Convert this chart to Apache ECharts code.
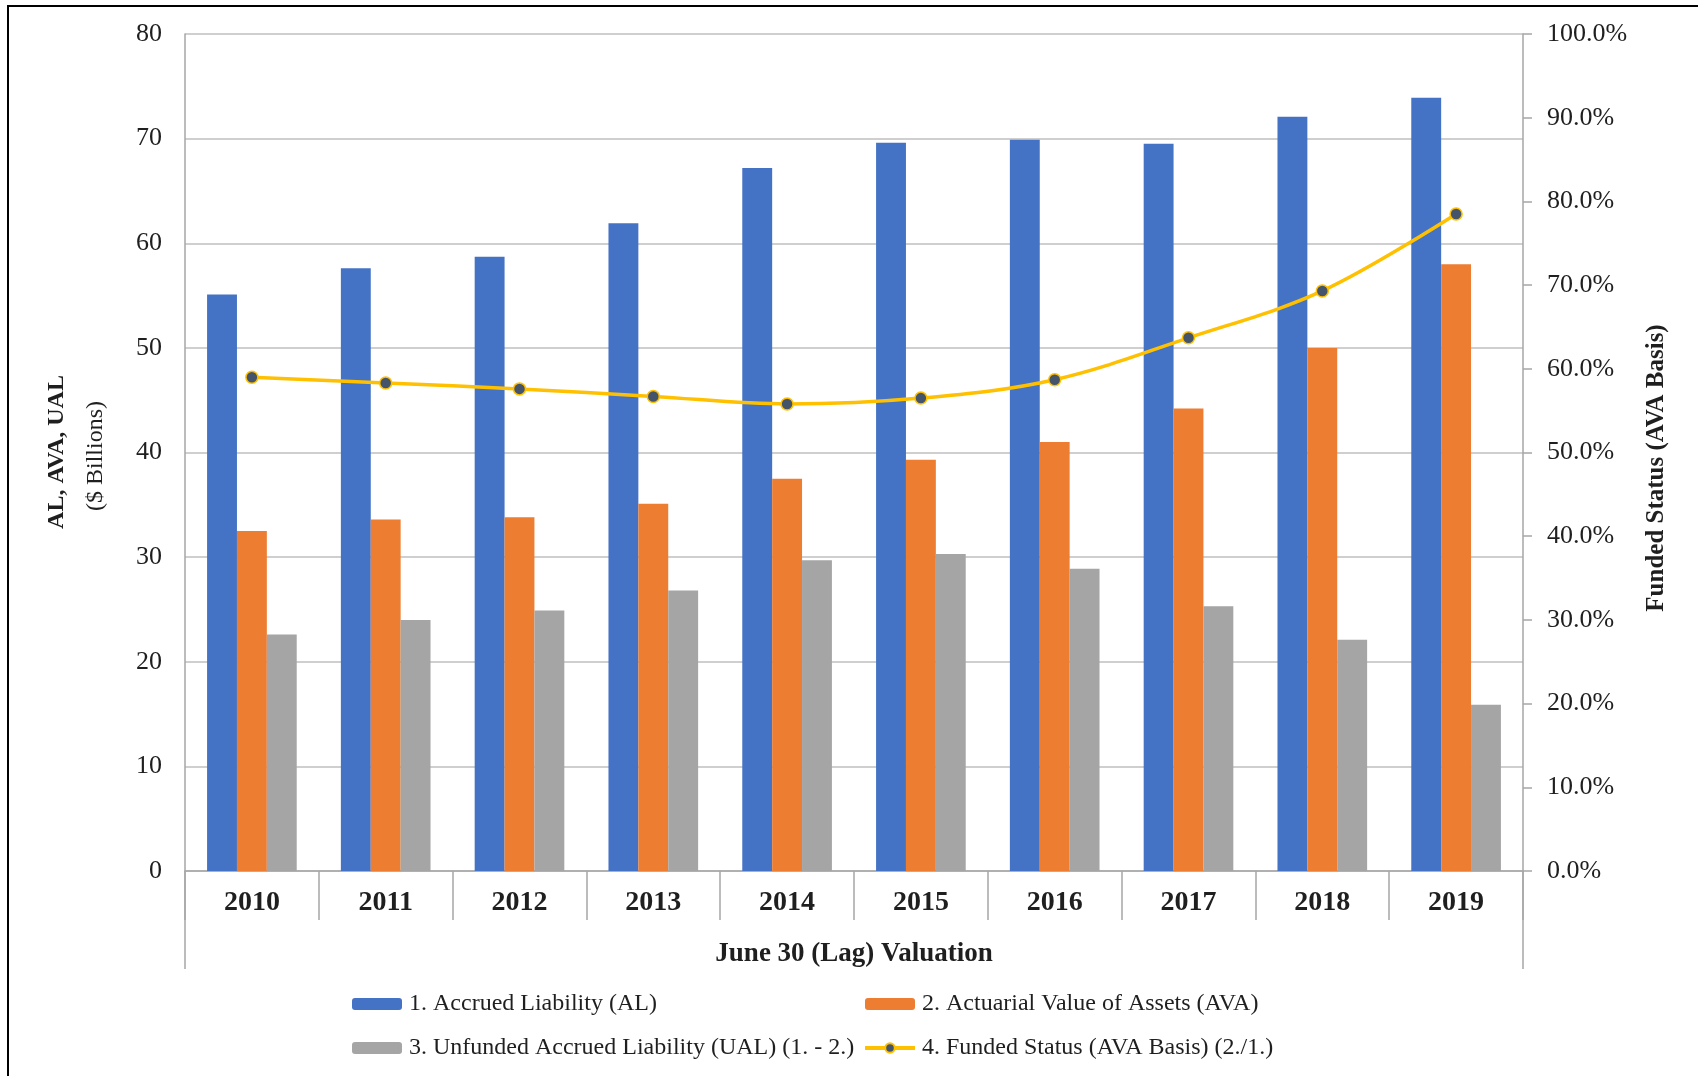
<!DOCTYPE html>
<html>
<head>
<meta charset="utf-8">
<title>Funded Status</title>
<script src="https://cdn.jsdelivr.net/npm/echarts@6/dist/echarts.min.js"></script>
<style>
  html, body { margin: 0; padding: 0; background: #fff; }
  #chart { width: 1698px; height: 1076px; }
</style>
</head>
<body>
<div id="chart"></div>
<script>
const years = ['2010', '2011', '2012', '2013', '2014', '2015', '2016', '2017', '2018', '2019']
const accruedLiability = [55.1, 57.6, 58.7, 61.9, 67.2, 69.6, 69.9, 69.5, 72.1, 73.9]
const actuarialAssets = [32.5, 33.6, 33.8, 35.1, 37.5, 39.3, 41.0, 44.2, 50.0, 58.0]
const unfundedLiability = [22.6, 24.0, 24.9, 26.8, 29.7, 30.3, 28.9, 25.3, 22.1, 15.9]
const fundedStatus = [59.0, 58.3, 57.6, 56.7, 55.8, 56.5, 58.7, 63.7, 69.3, 78.5]

const names = [
  '1. Accrued Liability (AL)',
  '2. Actuarial Value of Assets (AVA)',
  '3. Unfunded Accrued Liability (UAL) (1. - 2.)',
  '4. Funded Status (AVA Basis) (2./1.)'
]

const FONT = '"Liberation Serif", "DejaVu Serif", serif'
const TEXT = '#1f1f1f'
const AXIS = '#a6a6a6'

const myChart = echarts.init(document.getElementById('chart'))

// legend is laid out as two columns: (1, 3) and (2, 4)
const legendBase = {
  orient: 'vertical',
  top: 987,
  itemWidth: 50,
  itemHeight: 12,
  itemGap: 20,
  lineStyle: { width: 4 },
  textStyle: { fontFamily: FONT, fontSize: 24, color: TEXT, lineHeight: 24, padding: [0, 0, 0, 2] }
}

const option = {
  animation: false,
  backgroundColor: '#fff',
  color: ['#4472C4', '#ED7D31', '#A5A5A5', '#FFC000'],
  grid: { left: 185, right: 175, top: 34, bottom: 205 },
  legend: [
    { ...legendBase, left: 347, data: [names[0], names[2]] },
    { ...legendBase, left: 858, data: [names[1], names[3]] }
  ],
  xAxis: {
    type: 'category',
    data: years,
    name: 'June 30 (Lag) Valuation',
    nameLocation: 'middle',
    nameGap: 70,
    nameTextStyle: { fontFamily: FONT, fontSize: 27, fontWeight: 'bold', color: TEXT },
    axisLine: { lineStyle: { color: AXIS, width: 1.5 } },
    axisTick: { show: true, length: 49, interval: 0, lineStyle: { color: AXIS, width: 1.5 } },
    axisLabel: { fontFamily: FONT, fontSize: 28, fontWeight: 'bold', color: TEXT, margin: 18 }
  },
  yAxis: [
    {
      type: 'value',
      min: 0,
      max: 80,
      interval: 10,
      axisLine: { show: true, lineStyle: { color: AXIS, width: 1.5 } },
      axisTick: { show: false },
      axisLabel: { fontFamily: FONT, fontSize: 26, color: TEXT, margin: 23 },
      splitLine: { lineStyle: { color: '#bfbfbf', width: 1.5 } }
    },
    {
      type: 'value',
      min: 0,
      max: 100,
      interval: 10,
      axisLine: { show: true, lineStyle: { color: AXIS, width: 1.5 } },
      axisTick: { show: true, length: 9, lineStyle: { color: AXIS, width: 1.5 } },
      axisLabel: {
        fontFamily: FONT, fontSize: 26, color: TEXT, margin: 24,
        formatter: v => v.toFixed(1) + '%'
      },
      splitLine: { show: false }
    }
  ],
  graphic: [
    {
      type: 'rect',
      shape: { x: 8, y: 6, width: 1800, height: 1200 },
      style: { fill: 'none', stroke: '#000', lineWidth: 2 },
      silent: true
    },
    // axis lines continue down past the category band
    { type: 'line', shape: { x1: 185, y1: 871, x2: 185, y2: 969 }, style: { stroke: AXIS, lineWidth: 1.5 } },
    { type: 'line', shape: { x1: 1523, y1: 871, x2: 1523, y2: 969 }, style: { stroke: AXIS, lineWidth: 1.5 } },
    {
      type: 'text', x: 57, y: 452, rotation: Math.PI / 2,
      style: { text: 'AL, AVA, UAL', font: 'bold 24px ' + FONT, fill: TEXT, textAlign: 'center', textVerticalAlign: 'middle' }
    },
    {
      type: 'text', x: 96, y: 456, rotation: Math.PI / 2,
      style: { text: '($ Billions)', font: '24px ' + FONT, fill: TEXT, textAlign: 'center', textVerticalAlign: 'middle' }
    },
    {
      type: 'text', x: 1657, y: 468, rotation: Math.PI / 2,
      style: { text: 'Funded Status (AVA Basis)', font: 'bold 25px ' + FONT, fill: TEXT, textAlign: 'center', textVerticalAlign: 'middle' }
    }
  ],
  series: [
    { name: names[0], type: 'bar', barGap: '0%', barCategoryGap: '33%', data: accruedLiability },
    { name: names[1], type: 'bar', barGap: '0%', barCategoryGap: '33%', data: actuarialAssets },
    { name: names[2], type: 'bar', barGap: '0%', barCategoryGap: '33%', data: unfundedLiability },
    {
      name: names[3],
      type: 'line',
      yAxisIndex: 1,
      smooth: 0.35,
      symbol: 'circle',
      symbolSize: 12,
      lineStyle: { color: '#FFC000', width: 3.5 },
      itemStyle: { color: '#44546A', borderColor: '#FFC000', borderWidth: 1.5 },
      data: fundedStatus
    }
  ]
}
myChart.setOption(option, true)
</script>
</body>
</html>
